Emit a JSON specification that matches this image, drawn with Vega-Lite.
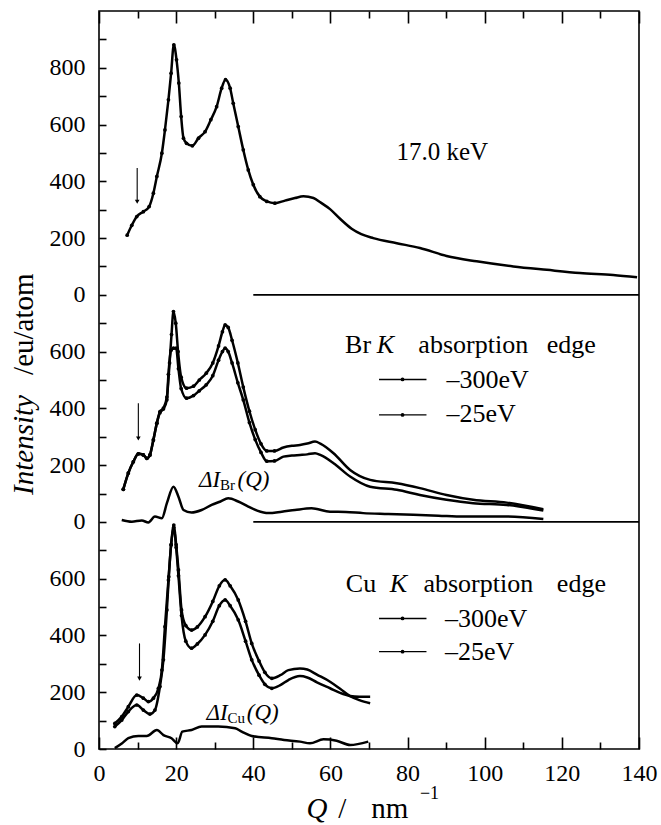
{
  "$schema": "https://vega.github.io/schema/vega-lite/v6.json",
  "width": 540,
  "height": 738,
  "autosize": {"type": "none"},
  "padding": {"left": 99, "top": 11, "right": 22, "bottom": 76},
  "background": "white",
  "config": {
    "view": {"stroke": "black", "strokeWidth": 1.6},
    "text": {"font": "Liberation Serif, Times New Roman, DejaVu Serif, serif", "fontSize": 26, "align": "left", "baseline": "alphabetic", "color": "black"},
    "axis": {"domain": false, "ticks": true, "tickColor": "#000000", "tickOpacity": 1, "tickWidth": 1.6, "labelFont": "Liberation Serif, Times New Roman, DejaVu Serif, serif", "labelFontSize": 24, "labelColor": "black", "grid": false, "title": null, "labelFlush": false, "labelOverlap": false, "zindex": 1}
  },
  "data": {"values": [{}]},
  "datasets": {
    "curves": [
      {"s":"top","Q":7.3,"I":210},{"s":"top","Q":8.5,"I":245},{"s":"top","Q":9.8,"I":276},{"s":"top","Q":11.5,"I":293},{"s":"top","Q":13.0,"I":311},{"s":"top","Q":14.1,"I":358},{"s":"top","Q":15.0,"I":417},{"s":"top","Q":16.3,"I":499},{"s":"top","Q":17.1,"I":581},{"s":"top","Q":18.0,"I":687},{"s":"top","Q":18.7,"I":781},{"s":"top","Q":19.4,"I":881},{"s":"top","Q":20.1,"I":828},{"s":"top","Q":20.7,"I":746},{"s":"top","Q":21.3,"I":628},{"s":"top","Q":21.9,"I":552},{"s":"top","Q":22.7,"I":534},{"s":"top","Q":24.2,"I":525},{"s":"top","Q":25.8,"I":552},{"s":"top","Q":27.5,"I":575},{"s":"top","Q":29.0,"I":617},{"s":"top","Q":30.5,"I":663},{"s":"top","Q":31.8,"I":728},{"s":"top","Q":32.8,"I":758},{"s":"top","Q":34.0,"I":728},{"s":"top","Q":34.8,"I":675},{"s":"top","Q":36.1,"I":593},{"s":"top","Q":37.4,"I":511},{"s":"top","Q":38.7,"I":440},{"s":"top","Q":40.0,"I":388},{"s":"top","Q":41.7,"I":346},{"s":"top","Q":43.5,"I":329},{"s":"top","Q":45.6,"I":323},{"s":"top","Q":48.2,"I":332},{"s":"top","Q":50.8,"I":341},{"s":"top","Q":53.0,"I":347},{"s":"top","Q":55.6,"I":341},{"s":"top","Q":57.5,"I":325},{"s":"top","Q":59.9,"I":302},{"s":"top","Q":62.5,"I":268},{"s":"top","Q":65.5,"I":233},{"s":"top","Q":68.0,"I":214},{"s":"top","Q":71.1,"I":200},{"s":"top","Q":77.2,"I":182},{"s":"top","Q":83.2,"I":165},{"s":"top","Q":90.1,"I":137},{"s":"top","Q":97.9,"I":118},{"s":"top","Q":107.4,"I":100},{"s":"top","Q":116.1,"I":88},{"s":"top","Q":124.7,"I":77},{"s":"top","Q":133.3,"I":70},{"s":"top","Q":139.5,"I":62},

      {"s":"M300","Q":6.3,"I":115},{"s":"M300","Q":7.6,"I":172},{"s":"M300","Q":8.9,"I":212},{"s":"M300","Q":10.2,"I":240},{"s":"M300","Q":11.5,"I":236},{"s":"M300","Q":12.4,"I":224},{"s":"M300","Q":13.2,"I":236},{"s":"M300","Q":14.1,"I":289},{"s":"M300","Q":15.0,"I":348},{"s":"M300","Q":15.8,"I":389},{"s":"M300","Q":16.7,"I":401},{"s":"M300","Q":17.6,"I":440},{"s":"M300","Q":18.3,"I":560},{"s":"M300","Q":18.8,"I":660},{"s":"M300","Q":19.3,"I":741},{"s":"M300","Q":19.9,"I":700},{"s":"M300","Q":20.5,"I":600},{"s":"M300","Q":21.3,"I":510},{"s":"M300","Q":22.7,"I":471},{"s":"M300","Q":24.5,"I":478},{"s":"M300","Q":26.0,"I":500},{"s":"M300","Q":27.8,"I":524},{"s":"M300","Q":29.5,"I":560},{"s":"M300","Q":31.0,"I":620},{"s":"M300","Q":32.0,"I":670},{"s":"M300","Q":32.7,"I":694},{"s":"M300","Q":33.5,"I":685},{"s":"M300","Q":34.5,"I":640},{"s":"M300","Q":36.0,"I":560},{"s":"M300","Q":37.4,"I":475},{"s":"M300","Q":39.0,"I":390},{"s":"M300","Q":40.5,"I":325},{"s":"M300","Q":42.0,"I":275},{"s":"M300","Q":43.5,"I":250},{"s":"M300","Q":45.5,"I":250},{"s":"M300","Q":47.8,"I":262},{"s":"M300","Q":50.0,"I":268},{"s":"M300","Q":52.1,"I":271},{"s":"M300","Q":54.0,"I":276},{"s":"M300","Q":56.0,"I":283},{"s":"M300","Q":57.5,"I":275},{"s":"M300","Q":60.8,"I":242},{"s":"M300","Q":65.1,"I":183},{"s":"M300","Q":70.3,"I":148},{"s":"M300","Q":77.2,"I":136},{"s":"M300","Q":83.2,"I":119},{"s":"M300","Q":90.1,"I":95},{"s":"M300","Q":97.0,"I":78},{"s":"M300","Q":105.7,"I":68},{"s":"M300","Q":115.2,"I":45},

      {"s":"M25","Q":6.3,"I":115},{"s":"M25","Q":7.6,"I":172},{"s":"M25","Q":8.9,"I":212},{"s":"M25","Q":10.2,"I":240},{"s":"M25","Q":11.5,"I":236},{"s":"M25","Q":12.4,"I":224},{"s":"M25","Q":13.2,"I":236},{"s":"M25","Q":14.1,"I":289},{"s":"M25","Q":15.0,"I":348},{"s":"M25","Q":15.8,"I":385},{"s":"M25","Q":16.7,"I":398},{"s":"M25","Q":17.6,"I":430},{"s":"M25","Q":18.0,"I":520},{"s":"M25","Q":18.7,"I":605},{"s":"M25","Q":19.3,"I":612},{"s":"M25","Q":20.0,"I":612},{"s":"M25","Q":20.6,"I":540},{"s":"M25","Q":21.3,"I":470},{"s":"M25","Q":22.7,"I":436},{"s":"M25","Q":24.5,"I":445},{"s":"M25","Q":26.0,"I":462},{"s":"M25","Q":27.8,"I":483},{"s":"M25","Q":29.5,"I":515},{"s":"M25","Q":31.0,"I":570},{"s":"M25","Q":32.0,"I":600},{"s":"M25","Q":32.7,"I":612},{"s":"M25","Q":33.5,"I":600},{"s":"M25","Q":34.5,"I":560},{"s":"M25","Q":36.0,"I":490},{"s":"M25","Q":37.4,"I":430},{"s":"M25","Q":39.0,"I":350},{"s":"M25","Q":40.5,"I":290},{"s":"M25","Q":42.0,"I":245},{"s":"M25","Q":43.5,"I":214},{"s":"M25","Q":45.5,"I":215},{"s":"M25","Q":47.8,"I":230},{"s":"M25","Q":50.0,"I":234},{"s":"M25","Q":52.1,"I":236},{"s":"M25","Q":54.0,"I":238},{"s":"M25","Q":56.0,"I":242},{"s":"M25","Q":57.5,"I":235},{"s":"M25","Q":60.8,"I":207},{"s":"M25","Q":65.1,"I":160},{"s":"M25","Q":70.3,"I":124},{"s":"M25","Q":77.2,"I":113},{"s":"M25","Q":83.2,"I":95},{"s":"M25","Q":90.1,"I":78},{"s":"M25","Q":97.0,"I":66},{"s":"M25","Q":105.7,"I":60},{"s":"M25","Q":115.2,"I":40},

      {"s":"dBr","Q":5.9,"I":7},{"s":"dBr","Q":8.5,"I":1},{"s":"dBr","Q":11.1,"I":5},{"s":"dBr","Q":12.8,"I":-2},{"s":"dBr","Q":14.5,"I":19},{"s":"dBr","Q":16.3,"I":13},{"s":"dBr","Q":17.6,"I":66},{"s":"dBr","Q":19.3,"I":124},{"s":"dBr","Q":20.6,"I":89},{"s":"dBr","Q":21.9,"I":42},{"s":"dBr","Q":24.0,"I":33},{"s":"dBr","Q":26.6,"I":42},{"s":"dBr","Q":29.2,"I":60},{"s":"dBr","Q":31.5,"I":72},{"s":"dBr","Q":33.5,"I":83},{"s":"dBr","Q":36.1,"I":72},{"s":"dBr","Q":38.7,"I":54},{"s":"dBr","Q":41.0,"I":40},{"s":"dBr","Q":43.9,"I":31},{"s":"dBr","Q":47.4,"I":36},{"s":"dBr","Q":50.8,"I":42},{"s":"dBr","Q":55.1,"I":48},{"s":"dBr","Q":59.9,"I":36},{"s":"dBr","Q":64.0,"I":35},{"s":"dBr","Q":68.5,"I":31},{"s":"dBr","Q":75.0,"I":28},{"s":"dBr","Q":81.5,"I":25},{"s":"dBr","Q":88.0,"I":22},{"s":"dBr","Q":94.5,"I":19},{"s":"dBr","Q":105.7,"I":19},{"s":"dBr","Q":115.2,"I":10},

      {"s":"C300","Q":4.1,"I":90},{"s":"C300","Q":5.9,"I":114},{"s":"C300","Q":7.6,"I":149},{"s":"C300","Q":9.8,"I":190},{"s":"C300","Q":11.5,"I":179},{"s":"C300","Q":12.8,"I":167},{"s":"C300","Q":14.1,"I":179},{"s":"C300","Q":15.4,"I":214},{"s":"C300","Q":16.3,"I":278},{"s":"C300","Q":17.1,"I":431},{"s":"C300","Q":18.0,"I":595},{"s":"C300","Q":18.7,"I":720},{"s":"C300","Q":19.4,"I":789},{"s":"C300","Q":20.0,"I":720},{"s":"C300","Q":20.6,"I":631},{"s":"C300","Q":21.4,"I":490},{"s":"C300","Q":22.5,"I":435},{"s":"C300","Q":24.0,"I":419},{"s":"C300","Q":25.5,"I":430},{"s":"C300","Q":27.5,"I":466},{"s":"C300","Q":29.5,"I":520},{"s":"C300","Q":31.2,"I":575},{"s":"C300","Q":32.7,"I":596},{"s":"C300","Q":34.0,"I":575},{"s":"C300","Q":36.1,"I":525},{"s":"C300","Q":38.0,"I":450},{"s":"C300","Q":39.6,"I":372},{"s":"C300","Q":41.5,"I":310},{"s":"C300","Q":43.0,"I":270},{"s":"C300","Q":44.8,"I":249},{"s":"C300","Q":47.0,"I":260},{"s":"C300","Q":49.1,"I":278},{"s":"C300","Q":52.1,"I":284},{"s":"C300","Q":54.0,"I":280},{"s":"C300","Q":56.5,"I":262},{"s":"C300","Q":59.9,"I":237},{"s":"C300","Q":62.5,"I":212},{"s":"C300","Q":65.1,"I":186},{"s":"C300","Q":67.5,"I":172},{"s":"C300","Q":70.3,"I":161},

      {"s":"C25","Q":4.1,"I":79},{"s":"C25","Q":5.9,"I":102},{"s":"C25","Q":7.6,"I":132},{"s":"C25","Q":9.8,"I":155},{"s":"C25","Q":11.5,"I":137},{"s":"C25","Q":13.2,"I":123},{"s":"C25","Q":14.5,"I":137},{"s":"C25","Q":15.8,"I":220},{"s":"C25","Q":16.7,"I":314},{"s":"C25","Q":17.6,"I":490},{"s":"C25","Q":18.1,"I":607},{"s":"C25","Q":18.7,"I":720},{"s":"C25","Q":19.4,"I":780},{"s":"C25","Q":20.0,"I":710},{"s":"C25","Q":20.6,"I":610},{"s":"C25","Q":21.4,"I":470},{"s":"C25","Q":22.5,"I":380},{"s":"C25","Q":24.0,"I":355},{"s":"C25","Q":25.5,"I":370},{"s":"C25","Q":27.5,"I":402},{"s":"C25","Q":29.5,"I":450},{"s":"C25","Q":31.2,"I":505},{"s":"C25","Q":32.7,"I":525},{"s":"C25","Q":34.0,"I":505},{"s":"C25","Q":36.1,"I":455},{"s":"C25","Q":38.0,"I":380},{"s":"C25","Q":39.6,"I":314},{"s":"C25","Q":41.5,"I":260},{"s":"C25","Q":43.0,"I":228},{"s":"C25","Q":44.8,"I":214},{"s":"C25","Q":47.0,"I":225},{"s":"C25","Q":49.1,"I":243},{"s":"C25","Q":52.1,"I":257},{"s":"C25","Q":54.0,"I":252},{"s":"C25","Q":56.5,"I":235},{"s":"C25","Q":59.9,"I":214},{"s":"C25","Q":62.5,"I":198},{"s":"C25","Q":65.1,"I":187},{"s":"C25","Q":67.5,"I":184},{"s":"C25","Q":70.3,"I":184},

      {"s":"dCu","Q":4.1,"I":3},{"s":"dCu","Q":6.0,"I":20},{"s":"dCu","Q":7.6,"I":38},{"s":"dCu","Q":10.2,"I":46},{"s":"dCu","Q":12.4,"I":46},{"s":"dCu","Q":15.0,"I":67},{"s":"dCu","Q":16.7,"I":49},{"s":"dCu","Q":18.8,"I":38},{"s":"dCu","Q":20.4,"I":20},{"s":"dCu","Q":21.6,"I":61},{"s":"dCu","Q":24.0,"I":67},{"s":"dCu","Q":26.6,"I":79},{"s":"dCu","Q":30.9,"I":79},{"s":"dCu","Q":35.3,"I":73},{"s":"dCu","Q":37.0,"I":61},{"s":"dCu","Q":39.6,"I":46},{"s":"dCu","Q":44.8,"I":38},{"s":"dCu","Q":48.0,"I":32},{"s":"dCu","Q":52.1,"I":26},{"s":"dCu","Q":54.7,"I":20},{"s":"dCu","Q":58.2,"I":34},{"s":"dCu","Q":61.6,"I":29},{"s":"dCu","Q":65.1,"I":14},{"s":"dCu","Q":69.8,"I":26}
    ],
    "baselines": [
      {"panel": "17.0 keV", "from": 40, "to": 140, "level": 1600},
      {"panel": "Br K edge", "from": 40, "to": 140, "level": 800}
    ]
  },
  "resolve": {"axis": {"x": "independent", "y": "independent"}},
  "layer": [
    {
      "data": {"name": "curves"},
      "transform": [{"calculate": "datum.I + (datum.s == 'top' ? 1600 : (datum.s == 'M300' || datum.s == 'M25' || datum.s == 'dBr') ? 800 : 0)", "as": "y"}],
      "mark": {"type": "line", "color": "black", "strokeWidth": 2.5, "strokeJoin": "round", "interpolate": "monotone"},
      "encoding": {
        "x": {"field": "Q", "type": "quantitative", "scale": {"domain": [0, 140], "nice": false, "zero": false},
          "axis": {"orient": "bottom", "values": [0,20,40,60,80,100,120,140], "ticks": true, "tickSize": 12, "offset": -12, "labelPadding": 12}},
        "y": {"field": "y", "type": "quantitative", "scale": {"domain": [0, 2600], "nice": false, "zero": false},
          "axis": {"orient": "left", "values": [0,100,200,300,400,500,600,700,800,900,1000,1100,1200,1300,1400,1500,1600,1700,1800,1900,2000,2100,2200,2300,2400,2500],
            "ticks": true, "tickSize": 7, "offset": -7, "labelPadding": 14,
            "labelExpr": "datum.value % 200 !== 0 ? '' : datum.value >= 1600 ? '' + (datum.value - 1600) : datum.value >= 800 ? '' + (datum.value - 800) : '' + datum.value"}},
        "detail": {"field": "s"}
      }
    },
    {
      "data": {"name": "curves"},
      "transform": [
        {"filter": "datum.Q < 46 && datum.s != 'dBr' && datum.s != 'dCu'"},
        {"calculate": "datum.I + (datum.s == 'top' ? 1600 : (datum.s == 'M300' || datum.s == 'M25') ? 800 : 0)", "as": "y"}
      ],
      "mark": {"type": "point", "filled": true, "size": 14, "color": "black", "opacity": 1},
      "encoding": {
        "x": {"field": "Q", "type": "quantitative",
          "axis": {"orient": "bottom", "values": [10,30,50,70,90,110,130], "ticks": true, "tickSize": 7, "offset": -7, "labels": false}},
        "y": {"field": "y", "type": "quantitative", "axis": null}
      }
    },
    {
      "data": {"name": "baselines"},
      "mark": {"type": "rule", "color": "black", "strokeWidth": 1.6},
      "encoding": {
        "x": {"field": "from", "type": "quantitative",
          "axis": {"orient": "top", "values": [0,20,40,60,80,100,120,140], "ticks": true, "tickSize": 12, "offset": -12, "labels": false}},
        "x2": {"field": "to"},
        "y": {"field": "level", "type": "quantitative", "axis": null}
      }
    },
    {"mark": {"type": "rule", "color": "black", "strokeWidth": 1.1}, "encoding": {"x": {"datum": 9.9, "type": "quantitative", "axis": {"orient": "top", "values": [10,30,50,70,90,110,130], "ticks": true, "tickSize": 7, "offset": -7, "labels": false}}, "y": {"datum": 2047, "type": "quantitative", "axis": null}, "y2": {"datum": 1930}}},
    {"mark": {"type": "point", "shape": "triangle-down", "filled": true, "size": 22, "color": "black", "opacity": 1}, "encoding": {"x": {"datum": 9.9, "type": "quantitative", "axis": null}, "y": {"datum": 1928, "type": "quantitative", "axis": null}}},
    {"mark": {"type": "rule", "color": "black", "strokeWidth": 1.1}, "encoding": {"x": {"datum": 10.2, "type": "quantitative", "axis": null}, "y": {"datum": 1218, "type": "quantitative", "axis": null}, "y2": {"datum": 1096}}},
    {"mark": {"type": "point", "shape": "triangle-down", "filled": true, "size": 22, "color": "black", "opacity": 1}, "encoding": {"x": {"datum": 10.2, "type": "quantitative", "axis": null}, "y": {"datum": 1094, "type": "quantitative", "axis": null}}},
    {"mark": {"type": "rule", "color": "black", "strokeWidth": 1.1}, "encoding": {"x": {"datum": 10.5, "type": "quantitative", "axis": null}, "y": {"datum": 372, "type": "quantitative", "axis": null}, "y2": {"datum": 250}}},
    {"mark": {"type": "point", "shape": "triangle-down", "filled": true, "size": 22, "color": "black", "opacity": 1}, "encoding": {"x": {"datum": 10.5, "type": "quantitative", "axis": null}, "y": {"datum": 248, "type": "quantitative", "axis": null}}},

    {"mark": {"type": "text", "text": "17.0 keV", "align": "center", "fontSize": 25}, "encoding": {"x": {"datum": 89, "type": "quantitative", "axis": null}, "y": {"datum": 2075, "type": "quantitative", "axis": null}}},

    {"mark": {"type": "text", "text": "Br"}, "encoding": {"x": {"datum": 63.8, "type": "quantitative", "axis": null}, "y": {"datum": 1394, "type": "quantitative", "axis": null}}},
    {"mark": {"type": "text", "text": "K", "fontStyle": "italic"}, "encoding": {"x": {"datum": 72.0, "type": "quantitative", "axis": null}, "y": {"datum": 1394, "type": "quantitative", "axis": null}}},
    {"mark": {"type": "text", "text": "absorption"}, "encoding": {"x": {"datum": 82.8, "type": "quantitative", "axis": null}, "y": {"datum": 1394, "type": "quantitative", "axis": null}}},
    {"mark": {"type": "text", "text": "edge"}, "encoding": {"x": {"datum": 116.1, "type": "quantitative", "axis": null}, "y": {"datum": 1394, "type": "quantitative", "axis": null}}},
    {"mark": {"type": "rule", "color": "black", "strokeWidth": 1.4}, "encoding": {"x": {"datum": 72.6, "type": "quantitative", "axis": null}, "x2": {"datum": 84.9}, "y": {"datum": 1302, "type": "quantitative", "axis": null}}},
    {"mark": {"type": "point", "filled": true, "size": 14, "color": "black", "opacity": 1}, "encoding": {"x": {"datum": 78.7, "type": "quantitative", "axis": null}, "y": {"datum": 1302, "type": "quantitative", "axis": null}}},
    {"mark": {"type": "text", "text": "–300eV"}, "encoding": {"x": {"datum": 90.1, "type": "quantitative", "axis": null}, "y": {"datum": 1271, "type": "quantitative", "axis": null}}},
    {"mark": {"type": "rule", "color": "black", "strokeWidth": 1.4}, "encoding": {"x": {"datum": 72.6, "type": "quantitative", "axis": null}, "x2": {"datum": 84.9}, "y": {"datum": 1177, "type": "quantitative", "axis": null}}},
    {"mark": {"type": "point", "filled": true, "size": 14, "color": "black", "opacity": 1}, "encoding": {"x": {"datum": 78.7, "type": "quantitative", "axis": null}, "y": {"datum": 1177, "type": "quantitative", "axis": null}}},
    {"mark": {"type": "text", "text": "–25eV"}, "encoding": {"x": {"datum": 90.1, "type": "quantitative", "axis": null}, "y": {"datum": 1153, "type": "quantitative", "axis": null}}},

    {"mark": {"type": "text", "text": "Cu"}, "encoding": {"x": {"datum": 64.0, "type": "quantitative", "axis": null}, "y": {"datum": 554, "type": "quantitative", "axis": null}}},
    {"mark": {"type": "text", "text": "K", "fontStyle": "italic"}, "encoding": {"x": {"datum": 75.4, "type": "quantitative", "axis": null}, "y": {"datum": 554, "type": "quantitative", "axis": null}}},
    {"mark": {"type": "text", "text": "absorption"}, "encoding": {"x": {"datum": 84.1, "type": "quantitative", "axis": null}, "y": {"datum": 554, "type": "quantitative", "axis": null}}},
    {"mark": {"type": "text", "text": "edge"}, "encoding": {"x": {"datum": 118.7, "type": "quantitative", "axis": null}, "y": {"datum": 554, "type": "quantitative", "axis": null}}},
    {"mark": {"type": "rule", "color": "black", "strokeWidth": 1.4}, "encoding": {"x": {"datum": 72.6, "type": "quantitative", "axis": null}, "x2": {"datum": 84.9}, "y": {"datum": 460, "type": "quantitative", "axis": null}}},
    {"mark": {"type": "point", "filled": true, "size": 14, "color": "black", "opacity": 1}, "encoding": {"x": {"datum": 78.7, "type": "quantitative", "axis": null}, "y": {"datum": 460, "type": "quantitative", "axis": null}}},
    {"mark": {"type": "text", "text": "–300eV"}, "encoding": {"x": {"datum": 89.7, "type": "quantitative", "axis": null}, "y": {"datum": 431, "type": "quantitative", "axis": null}}},
    {"mark": {"type": "rule", "color": "black", "strokeWidth": 1.4}, "encoding": {"x": {"datum": 72.6, "type": "quantitative", "axis": null}, "x2": {"datum": 84.9}, "y": {"datum": 343, "type": "quantitative", "axis": null}}},
    {"mark": {"type": "point", "filled": true, "size": 14, "color": "black", "opacity": 1}, "encoding": {"x": {"datum": 78.7, "type": "quantitative", "axis": null}, "y": {"datum": 343, "type": "quantitative", "axis": null}}},
    {"mark": {"type": "text", "text": "–25eV"}, "encoding": {"x": {"datum": 89.7, "type": "quantitative", "axis": null}, "y": {"datum": 314, "type": "quantitative", "axis": null}}},

    {"mark": {"type": "text", "text": "ΔI", "fontStyle": "italic", "fontSize": 23}, "encoding": {"x": {"datum": 25.9, "type": "quantitative", "axis": null}, "y": {"datum": 924, "type": "quantitative", "axis": null}}},
    {"mark": {"type": "text", "text": "Br", "fontSize": 15}, "encoding": {"x": {"datum": 31.4, "type": "quantitative", "axis": null}, "y": {"datum": 912, "type": "quantitative", "axis": null}}},
    {"mark": {"type": "text", "text": "(Q)", "fontStyle": "italic", "fontSize": 23}, "encoding": {"x": {"datum": 35.9, "type": "quantitative", "axis": null}, "y": {"datum": 924, "type": "quantitative", "axis": null}}},
    {"mark": {"type": "text", "text": "ΔI", "fontStyle": "italic", "fontSize": 23}, "encoding": {"x": {"datum": 27.9, "type": "quantitative", "axis": null}, "y": {"datum": 102, "type": "quantitative", "axis": null}}},
    {"mark": {"type": "text", "text": "Cu", "fontSize": 15}, "encoding": {"x": {"datum": 33.3, "type": "quantitative", "axis": null}, "y": {"datum": 90, "type": "quantitative", "axis": null}}},
    {"mark": {"type": "text", "text": "(Q)", "fontStyle": "italic", "fontSize": 23}, "encoding": {"x": {"datum": 38.3, "type": "quantitative", "axis": null}, "y": {"datum": 102, "type": "quantitative", "axis": null}}},

    {"mark": {"type": "text", "text": "Intensity", "fontStyle": "italic", "fontSize": 29, "angle": 270}, "encoding": {"x": {"datum": -17.1, "type": "quantitative", "axis": null}, "y": {"datum": 895, "type": "quantitative", "axis": null}}},
    {"mark": {"type": "text", "text": "/eu/atom", "fontSize": 29, "angle": 270}, "encoding": {"x": {"datum": -17.1, "type": "quantitative", "axis": null}, "y": {"datum": 1318, "type": "quantitative", "axis": null}}},

    {"mark": {"type": "text", "text": "Q", "fontStyle": "italic", "fontSize": 29}, "encoding": {"x": {"datum": 53.8, "type": "quantitative", "axis": null}, "y": {"datum": -243, "type": "quantitative", "axis": null}}},
    {"mark": {"type": "text", "text": "/", "fontSize": 29}, "encoding": {"x": {"datum": 62.0, "type": "quantitative", "axis": null}, "y": {"datum": -243, "type": "quantitative", "axis": null}}},
    {"mark": {"type": "text", "text": "nm", "fontSize": 29}, "encoding": {"x": {"datum": 70.6, "type": "quantitative", "axis": null}, "y": {"datum": -243, "type": "quantitative", "axis": null}}},
    {"mark": {"type": "text", "text": "−1", "fontSize": 18}, "encoding": {"x": {"datum": 83.2, "type": "quantitative", "axis": null}, "y": {"datum": -175, "type": "quantitative", "axis": null}}}
  ]
}
